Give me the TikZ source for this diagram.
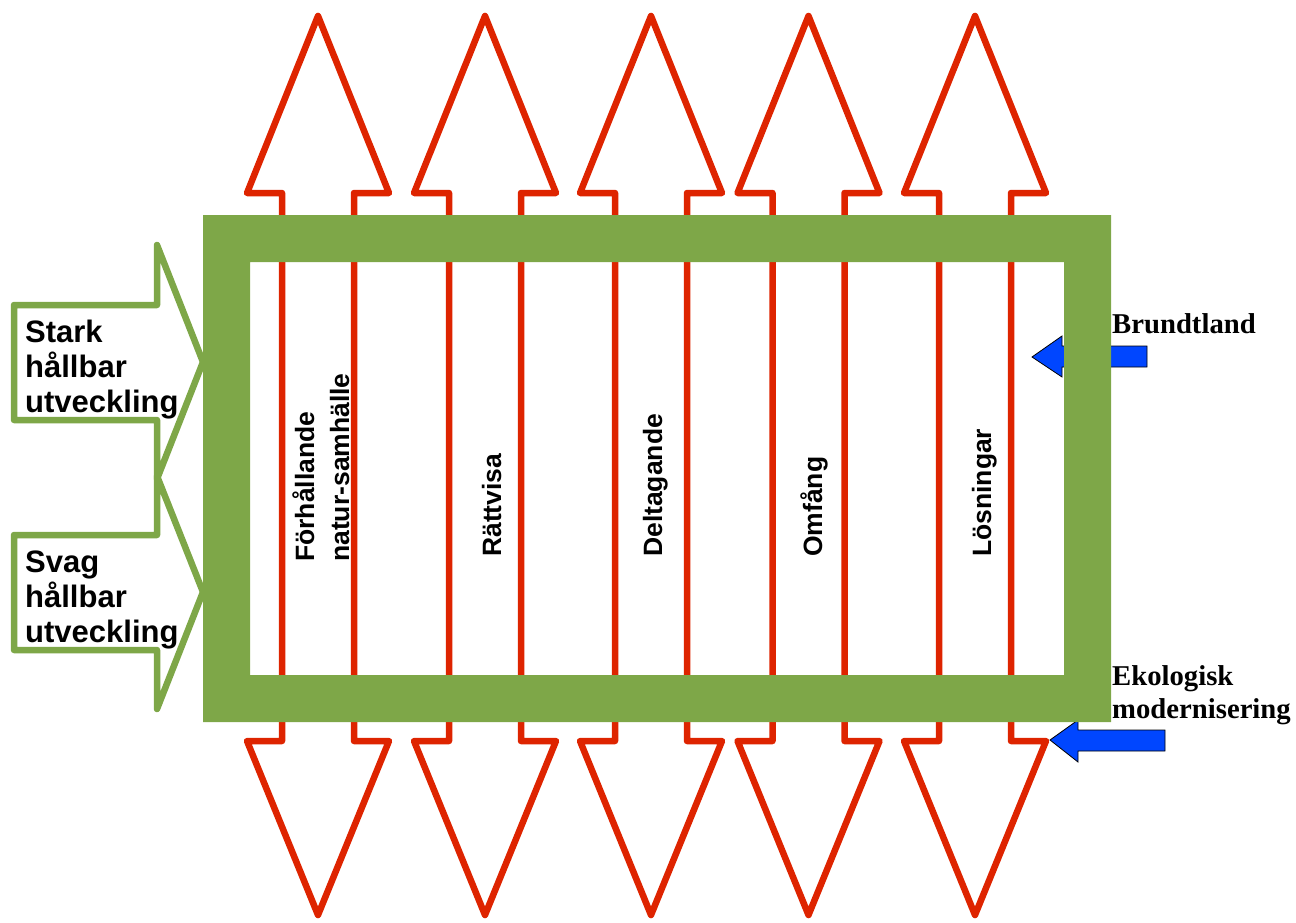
\documentclass[tikz,border=0pt]{standalone}
\usepackage{fontspec}
\setmainfont{Liberation Sans}
\newfontfamily\timesfont{Liberation Serif}
\definecolor{frgreen}{RGB}{126,167,72}
\definecolor{arred}{RGB}{222,36,0}
\definecolor{arblue}{RGB}{0,70,255}
\begin{document}
\begin{tikzpicture}[x=1pt,y=-1pt,
  redarrow/.style={draw=arred,line width=6.5pt,line join=round,fill=white},
  greenarrow/.style={draw=frgreen,line width=6.5pt,line join=round,fill=white},
  bluearrow/.style={draw=black,line width=0.8pt,fill=arblue},
  collabel/.style={rotate=90,anchor=base west,align=left,inner sep=0pt,
    font=\bfseries\fontsize{26.5}{35}\selectfont},
  sidelabel/.style={anchor=base west,align=left,inner sep=0pt,
    font=\bfseries\fontsize{31}{35}\selectfont},
  rightlabel/.style={anchor=base west,align=left,inner sep=0pt,
    font=\timesfont\bfseries\fontsize{28.7}{33}\selectfont}]
\useasboundingbox (0,0) rectangle (1296,923);
% green arrows on the left
\draw[greenarrow] (14,305) -- (157,305) -- (157,245) -- (203,362) -- (157,479) -- (157,420) -- (14,420) -- cycle;
\draw[greenarrow] (14,535) -- (157,535) -- (157,476) -- (203,592) -- (157,709) -- (157,650) -- (14,650) -- cycle;
% red double arrows
\foreach \c in {318,485,651,808.5,975}{
  \draw[redarrow] (\c,16) -- ({\c+71},193) -- ({\c+36},193) -- ({\c+36},741) -- ({\c+71},741)
    -- (\c,915) -- ({\c-71},741) -- ({\c-36},741) -- ({\c-36},193) -- ({\c-71},193) -- cycle;
}
% blue arrows
\draw[bluearrow] (1032,357) -- (1062,336) -- (1062,346) -- (1147,346) -- (1147,367) -- (1062,367) -- (1062,377) -- cycle;
\draw[bluearrow] (1050,740) -- (1078,720) -- (1078,730) -- (1165,730) -- (1165,751) -- (1078,751) -- (1078,762) -- cycle;
% green frame
\fill[frgreen,even odd rule] (203,215) rectangle (1111,722) (250,262) rectangle (1064,675);
% labels (base anchor of a multi-line node = last line's baseline)
\node[collabel] (l1) at (349,562) {Förhållande\\natur-samhälle};
\node[collabel] (l2) at (501,557) {Rättvisa};
\node[collabel] (l3) at (662,557) {Deltagande};
\node[collabel] (l4) at (822,557) {Omfång};
\node[collabel] (l5) at (991,557) {Lösningar};
\node[sidelabel] (stark) at (25,412) {Stark\\hållbar\\utveckling};
\node[sidelabel] (svag) at (25,642) {Svag\\hållbar\\utveckling};
\node[rightlabel] (brundtland) at (1112,333) {Brundtland};
\node[rightlabel] (ekolog) at (1112,718) {Ekologisk\\modernisering};
\end{tikzpicture}
\end{document}
